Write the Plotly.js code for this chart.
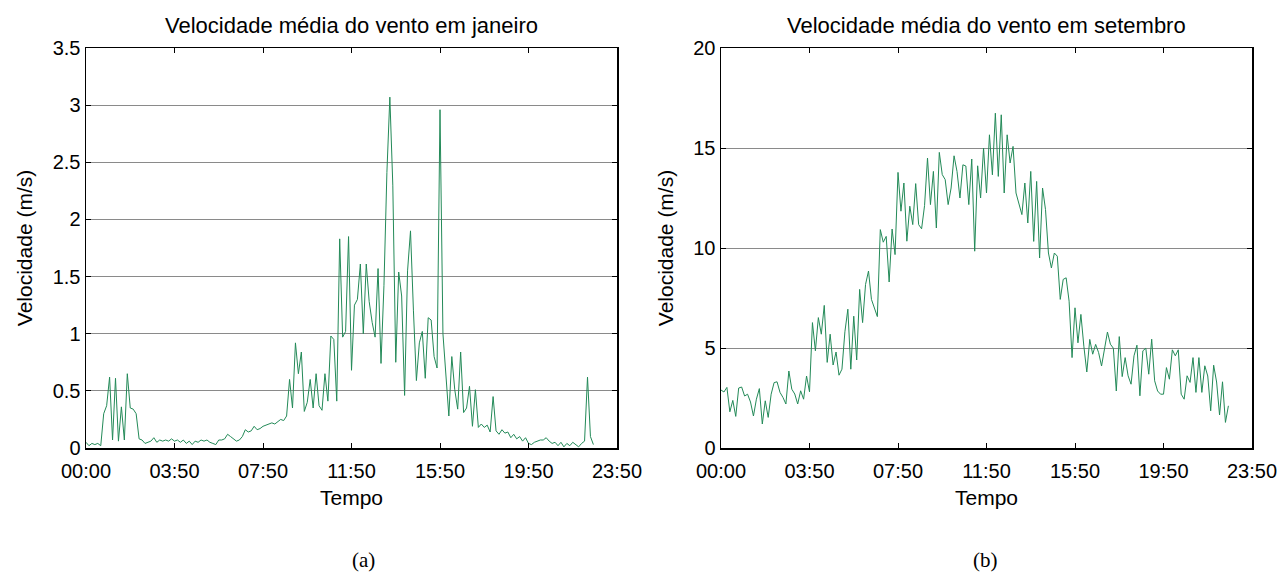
<!DOCTYPE html>
<html>
<head>
<meta charset="utf-8">
<script src="https://cdn.plot.ly/plotly-3.0.1.min.js"></script>
<style>
html,body{margin:0;padding:0;background:#fff;}
#chart{width:1279px;height:573px;}
</style>
</head>
<body>
<div id="chart"></div>
<script>
// Sampling interval of the series (minutes)
const SAMPLE_MINUTES = 8;

// Tick positions (minutes) and their labels
const tickMinutes = [0, 240, 480, 720, 960, 1200, 1440];
const tickLabels = ['00:00', '03:50', '07:50', '11:50', '15:50', '19:50', '23:50'];

// (a) Mean wind speed in January (m/s)
const janeiro = [
  0.05,0.02,0.04,0.03,0.04,0.02,0.30,0.37,0.62,0.07,
  0.61,0.06,0.36,0.07,0.65,0.35,0.34,0.30,0.08,0.07,
  0.04,0.05,0.06,0.09,0.05,0.07,0.06,0.07,0.06,0.08,
  0.06,0.07,0.05,0.07,0.04,0.06,0.03,0.06,0.05,0.07,
  0.06,0.07,0.05,0.04,0.03,0.07,0.07,0.08,0.12,0.10,
  0.08,0.06,0.07,0.10,0.16,0.14,0.15,0.19,0.16,0.17,
  0.19,0.20,0.21,0.22,0.21,0.23,0.25,0.24,0.28,0.60,
  0.35,0.92,0.65,0.84,0.32,0.40,0.60,0.35,0.65,0.37,
  0.33,0.65,0.41,0.98,0.95,0.41,1.83,0.97,1.02,1.85,
  0.68,1.25,1.30,1.61,1.00,1.61,1.28,1.10,0.97,1.57,
  0.74,1.42,2.41,3.07,2.30,0.75,1.54,1.33,0.46,1.55,
  1.90,1.20,0.59,0.92,1.02,0.61,1.14,1.12,0.80,0.70,
  2.96,1.00,0.63,0.28,0.80,0.51,0.34,0.84,0.31,0.35,
  0.54,0.19,0.51,0.18,0.21,0.18,0.20,0.14,0.45,0.15,
  0.12,0.16,0.13,0.14,0.09,0.12,0.08,0.10,0.06,0.09,
  0.04,0.03,0.05,0.06,0.07,0.07,0.09,0.06,0.04,0.05,
  0.02,0.05,0.01,0.04,0.02,0.05,0.03,0.01,0.04,0.06,
  0.62,0.10,0.03
];

// (b) Mean wind speed in September (m/s)
const setembro = [
  2.90,2.80,3.03,1.81,2.38,1.58,3.00,3.05,2.60,2.69,
  2.30,1.60,2.44,2.97,1.20,2.36,1.53,2.69,3.27,3.31,
  2.78,2.53,2.20,3.85,2.94,2.70,2.20,2.86,2.44,3.60,
  2.81,6.27,4.86,6.52,5.69,7.13,4.28,5.69,4.15,4.80,
  3.64,3.94,5.81,6.94,3.94,6.59,4.40,7.93,6.27,8.18,
  8.85,7.43,7.00,6.57,10.92,10.29,10.58,8.30,10.95,9.67,
  13.78,11.84,13.25,10.34,12.09,11.17,13.22,11.17,10.96,12.12,
  14.50,12.17,13.83,11.00,14.78,13.67,13.42,12.17,13.00,14.61,
  13.83,12.50,14.16,14.10,12.17,14.45,9.84,14.11,12.50,15.00,
  12.75,15.66,13.66,16.74,13.58,16.66,12.75,15.66,14.25,15.08,
  12.75,12.25,11.67,13.25,11.25,13.83,10.33,13.33,9.50,13.00,
  11.92,9.75,9.00,9.75,9.59,7.43,8.43,8.51,7.34,4.52,
  7.01,5.26,6.68,5.09,3.80,5.43,4.69,5.18,4.77,4.10,
  4.93,5.80,5.19,4.99,2.85,5.57,3.57,4.52,3.61,3.19,
  4.61,5.14,2.61,4.86,4.99,3.69,5.44,3.36,2.85,2.69,
  2.69,4.02,3.44,4.91,4.61,4.91,2.69,2.44,3.61,3.28,
  4.52,2.78,4.52,2.78,4.11,3.60,1.86,4.14,3.30,1.65,
  3.31,1.28,2.11
];

const titles = ['Velocidade média do vento em janeiro', 'Velocidade média do vento em setembro'];
const panelLabels = ['(a)', '(b)'];
const xTitle = 'Tempo';
const yTitle = 'Velocidade (m/s)';

const W = 1279, H = 573;
const lineColor = '#238a58';
const FONT = '"Liberation Sans", Arial, Helvetica, sans-serif';
const SERIF = '"Liberation Serif", "Times New Roman", serif';

const tJan = janeiro.map((_, i) => i * SAMPLE_MINUTES);
const tSet = setembro.map((_, i) => i * SAMPLE_MINUTES);

const traces = [
  {x: tJan, y: janeiro, type: 'scatter', mode: 'lines', line: {color: lineColor, width: 1}, xaxis: 'x', yaxis: 'y', hoverinfo: 'skip'},
  {x: tSet, y: setembro, type: 'scatter', mode: 'lines', line: {color: lineColor, width: 1}, xaxis: 'x2', yaxis: 'y2', hoverinfo: 'skip'}
];

const yDom = [(H - 448) / H, (H - 48) / H];

function xAx(domain, anchor) {
  return {
    domain: domain, anchor: anchor, range: [0, 1440],
    tickmode: 'array', tickvals: tickMinutes, ticktext: tickLabels,
    ticks: 'inside', ticklen: 5, tickwidth: 1, tickcolor: '#000',
    showline: true, linecolor: '#000', linewidth: 1.5, mirror: 'ticks',
    showgrid: false, zeroline: false, automargin: false,
    ticklabelstandoff: 4,
    tickfont: {family: FONT, size: 20, color: '#000'},
    title: {text: xTitle, font: {family: FONT, size: 21, color: '#000'}, standoff: 10}
  };
}
function yAx(domain, anchor, range, dtick) {
  return {
    domain: domain, anchor: anchor, range: range, dtick: dtick, tick0: 0,
    ticks: 'inside', ticklen: 5, tickwidth: 1, tickcolor: '#000',
    showline: true, linecolor: '#000', linewidth: 1.5, mirror: 'ticks',
    showgrid: true, gridcolor: '#8a8a8a', gridwidth: 1, zeroline: false, automargin: false,
    tickfont: {family: FONT, size: 20, color: '#000'},
    title: {text: yTitle, font: {family: FONT, size: 21, color: '#000'}, standoff: 14}
  };
}

const layout = {
  width: W, height: H,
  margin: {l: 0, r: 0, t: 0, b: 0},
  paper_bgcolor: '#fff', plot_bgcolor: '#fff',
  showlegend: false,
  font: {family: FONT, size: 21, color: '#000'},
  xaxis: xAx([86 / W, 617 / W], 'y'),
  yaxis: yAx(yDom, 'x', [0, 3.5], 0.5),
  xaxis2: xAx([721 / W, 1252 / W], 'y2'),
  yaxis2: yAx(yDom, 'x2', [0, 20], 5),
  annotations: [
    {text: titles[0], xref: 'paper', yref: 'paper', x: 351.5 / W, y: 1 - 25 / H, xanchor: 'center', yanchor: 'middle', showarrow: false, font: {family: FONT, size: 22, color: '#000'}},
    {text: titles[1], xref: 'paper', yref: 'paper', x: 986.5 / W, y: 1 - 25 / H, xanchor: 'center', yanchor: 'middle', showarrow: false, font: {family: FONT, size: 22, color: '#000'}},
    {text: panelLabels[0], xref: 'paper', yref: 'paper', x: 363 / W, y: 1 - 560 / H, xanchor: 'center', yanchor: 'middle', showarrow: false, font: {family: SERIF, size: 21, color: '#000'}},
    {text: panelLabels[1], xref: 'paper', yref: 'paper', x: 985 / W, y: 1 - 560 / H, xanchor: 'center', yanchor: 'middle', showarrow: false, font: {family: SERIF, size: 21, color: '#000'}}
  ]
};

Plotly.newPlot('chart', traces, layout, {staticPlot: true, displayModeBar: false});
</script>
</body>
</html>
